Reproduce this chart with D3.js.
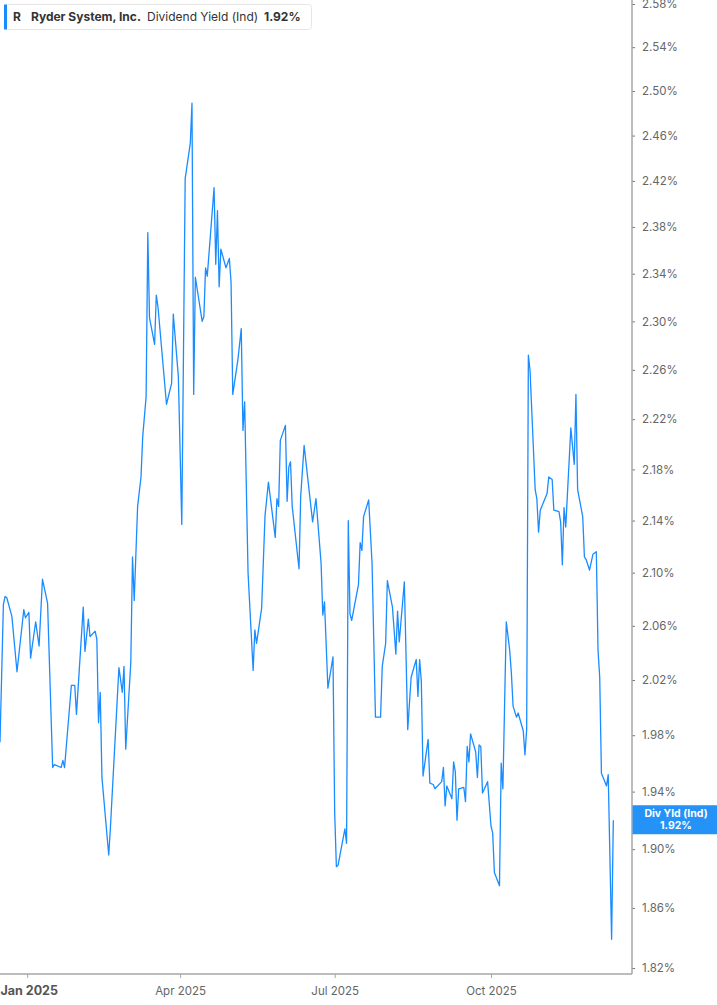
<!DOCTYPE html>
<html>
<head>
<meta charset="utf-8">
<script src="https://d3js.org/d3.v7.min.js"></script>
<style>
  body { margin: 0; background: #fff; }
  svg { display: block; font-family: Inter, "Noto Sans", sans-serif; }
</style>
</head>
<body>
<svg width="717" height="1005"></svg>
<script>
// Ryder System, Inc. - dividend yield (ind), in percent
var dates = ["2024-12-16","2024-12-18","2024-12-19","2024-12-20","2024-12-23","2024-12-26","2024-12-30","2024-12-31",
  "2025-01-02","2025-01-03","2025-01-06","2025-01-08","2025-01-10","2025-01-13","2025-01-16","2025-01-17","2025-01-21","2025-01-22","2025-01-23","2025-01-27","2025-01-29","2025-01-30",
  "2025-02-03","2025-02-04","2025-02-06","2025-02-07","2025-02-10","2025-02-11","2025-02-12","2025-02-13","2025-02-14","2025-02-18","2025-02-19","2025-02-21","2025-02-24","2025-02-26","2025-02-27","2025-02-28",
  "2025-03-03","2025-03-04","2025-03-05","2025-03-07","2025-03-09","2025-03-10","2025-03-12","2025-03-13","2025-03-14","2025-03-17","2025-03-18","2025-03-19","2025-03-24","2025-03-27","2025-03-28","2025-03-31",
  "2025-04-02","2025-04-04","2025-04-07","2025-04-08","2025-04-09","2025-04-10","2025-04-14","2025-04-15","2025-04-16","2025-04-17","2025-04-21","2025-04-22","2025-04-23","2025-04-24","2025-04-25","2025-04-28","2025-04-30",
  "2025-05-01","2025-05-02","2025-05-05","2025-05-07","2025-05-08","2025-05-09","2025-05-11","2025-05-14","2025-05-15","2025-05-16","2025-05-19","2025-05-21","2025-05-23","2025-05-27","2025-05-28","2025-05-29","2025-05-30",
  "2025-06-02","2025-06-03","2025-06-04","2025-06-05","2025-06-06","2025-06-10","2025-06-11","2025-06-13","2025-06-18","2025-06-20","2025-06-23","2025-06-24","2025-06-25","2025-06-27","2025-06-30",
  "2025-07-01","2025-07-02","2025-07-03","2025-07-07","2025-07-08","2025-07-09","2025-07-10","2025-07-11","2025-07-15","2025-07-16","2025-07-17","2025-07-18","2025-07-21","2025-07-23","2025-07-25","2025-07-28","2025-07-29","2025-07-31",
  "2025-08-01","2025-08-04","2025-08-06","2025-08-07","2025-08-08","2025-08-11","2025-08-13","2025-08-15","2025-08-18","2025-08-19","2025-08-20","2025-08-21","2025-08-22","2025-08-25","2025-08-26","2025-08-28","2025-08-29",
  "2025-09-02","2025-09-03","2025-09-04","2025-09-05","2025-09-08","2025-09-09","2025-09-10","2025-09-11","2025-09-12","2025-09-15","2025-09-16","2025-09-17","2025-09-18","2025-09-19","2025-09-22","2025-09-23","2025-09-24","2025-09-25","2025-09-26","2025-09-29",
  "2025-10-01","2025-10-02","2025-10-03","2025-10-06","2025-10-07","2025-10-08","2025-10-10","2025-10-12","2025-10-13","2025-10-14","2025-10-16","2025-10-17","2025-10-20","2025-10-21","2025-10-22","2025-10-23","2025-10-24","2025-10-27","2025-10-28","2025-10-29","2025-10-30",
  "2025-11-03","2025-11-04","2025-11-06","2025-11-07","2025-11-10","2025-11-11","2025-11-12","2025-11-13","2025-11-14","2025-11-17","2025-11-19","2025-11-20","2025-11-21","2025-11-24","2025-11-25","2025-11-26","2025-11-28","2025-11-30",
  "2025-12-02","2025-12-03","2025-12-04","2025-12-05","2025-12-08","2025-12-09","2025-12-11","2025-12-12"];

var yields = [1.975, 2.076, 2.082, 2.081, 2.067, 2.026, 2.072, 2.066,
  2.070, 2.036, 2.063, 2.045, 2.095, 2.077, 1.957, 1.959, 1.957, 1.962, 1.957, 2.016, 2.016, 1.995,
  2.074, 2.041, 2.065, 2.052, 2.056, 2.050, 1.989, 2.011, 1.950, 1.896, 1.915, 1.960, 2.029, 2.011, 2.030, 1.970,
  2.033, 2.112, 2.079, 2.151, 2.174, 2.206, 2.238, 2.375, 2.303, 2.281, 2.322, 2.312, 2.232, 2.249, 2.306, 2.254,
  2.137, 2.422, 2.453, 2.489, 2.240, 2.337, 2.300, 2.304, 2.345, 2.338, 2.414, 2.348, 2.394, 2.329, 2.361, 2.345, 2.353,
  2.333, 2.240, 2.268, 2.294, 2.211, 2.234, 2.100, 2.027, 2.057, 2.047, 2.073, 2.144, 2.170, 2.127, 2.157, 2.151, 2.203,
  2.215, 2.155, 2.182, 2.186, 2.151, 2.103, 2.159, 2.199, 2.139, 2.157, 2.107, 2.068, 2.078, 2.014, 2.037,
  1.925, 1.888, 1.889, 1.914, 1.904, 2.140, 2.069, 2.064, 2.091, 2.123, 2.117, 2.143, 2.156, 2.107, 1.993, 1.993, 2.030, 2.047,
  2.094, 2.074, 2.039, 2.071, 2.048, 2.093, 1.984, 2.022, 2.035, 2.008, 2.035, 2.019, 1.951, 1.977, 1.946, 1.945, 1.942,
  1.947, 1.957, 1.930, 1.944, 1.935, 1.961, 1.954, 1.920, 1.942, 1.943, 1.933, 1.972, 1.961, 1.981, 1.968, 1.950, 1.973, 1.972, 1.939, 1.947,
  1.916, 1.911, 1.884, 1.875, 1.960, 1.942, 2.063, 2.042, 2.025, 2.001, 1.993, 1.996, 1.983, 1.966, 1.984, 2.272, 2.259, 2.164, 2.157, 2.131, 2.148,
  2.161, 2.174, 2.172, 2.148, 2.147, 2.139, 2.106, 2.150, 2.135, 2.213, 2.184, 2.240, 2.164, 2.143, 2.112, 2.110, 2.102, 2.114,
  2.116, 2.042, 2.022, 1.953, 1.944, 1.952, 1.839, 1.920];

var yTicks = [1.82, 1.86, 1.90, 1.94, 1.98, 2.02, 2.06, 2.10, 2.14, 2.18, 2.22, 2.26, 2.30, 2.34, 2.38, 2.42, 2.46, 2.50, 2.54, 2.58];
var xTicks = ["2025-01-01", "2025-04-01", "2025-07-01", "2025-10-01"];
var xTickLabels = ["Jan 2025", "Apr 2025", "Jul 2025", "Oct 2025"];
var xDomain = ["2024-12-16", "2025-12-23"];

var parseDate = d3.timeParse("%Y-%m-%d");

var data = dates.map(function(d, i) {
  return {date: parseDate(d), value: yields[i]};
});

var svg = d3.select("svg"),
    plotRight = 632,
    plotBottom = 974,
    blue = "#1a8cff",
    axisColor = "#a6a6a6";

var x = d3.scaleTime()
    .domain(xDomain.map(parseDate))
    .range([0, plotRight]);

// log scale: tick spacing grows toward the bottom
var y = d3.scaleLog()
    .domain([1.82, 2.58])
    .range([968, 4]);

// line
var line = d3.line()
    .x(function(d) { return x(d.date); })
    .y(function(d) { return y(d.value); });

svg.append("path")
    .datum(data)
    .attr("fill", "none")
    .attr("stroke", blue)
    .attr("stroke-width", 1.3)
    .attr("stroke-linejoin", "round")
    .attr("d", line);

// right axis
var yAxis = svg.append("g")
    .attr("transform", "translate(" + plotRight + ",0)")
    .call(d3.axisRight(y)
      .tickValues(yTicks)
      .tickSize(3)
      .tickPadding(7)
      .tickFormat(function(d) { return d.toFixed(2) + "%"; }));

yAxis.select(".domain").remove();
yAxis.selectAll(".tick line").attr("stroke", "#777");
yAxis.selectAll(".tick text")
    .attr("fill", "#666")
    .attr("font-size", "11.5px")
    .attr("font-family", "Inter, sans-serif");

// bottom axis
var xAxis = svg.append("g")
    .attr("transform", "translate(0," + plotBottom + ")")
    .call(d3.axisBottom(x)
      .tickValues(xTicks.map(parseDate))
      .tickSize(4)
      .tickFormat(function(d, i) { return xTickLabels[i]; }));

xAxis.select(".domain").remove();
xAxis.selectAll(".tick line").attr("stroke", axisColor);
xAxis.selectAll(".tick text")
    .attr("fill", "#666")
    .attr("font-size", "11.5px")
    .attr("font-family", "Inter, sans-serif")
    .attr("dy", null)
    .attr("y", 21);

// first label is bold and sits flush left
xAxis.select(".tick text")
    .attr("text-anchor", "start")
    .attr("x", -x(parseDate(xTicks[0])))
    .attr("font-weight", "bold")
    .attr("font-size", "12.5px")
    .attr("fill", "#555");

// axis lines
svg.append("line")
    .attr("x1", plotRight).attr("x2", plotRight)
    .attr("y1", 0).attr("y2", plotBottom)
    .attr("stroke", axisColor)
    .attr("stroke-width", 1.5);

svg.append("line")
    .attr("x1", 0).attr("x2", plotRight)
    .attr("y1", plotBottom).attr("y2", plotBottom)
    .attr("stroke", axisColor)
    .attr("stroke-width", 1.5);

// last value tag on the axis
var last = data[data.length - 1];
var tag = svg.append("g")
    .attr("transform", "translate(" + plotRight + "," + y(last.value) + ")");

tag.append("rect")
    .attr("x", 0.5)
    .attr("y", -15)
    .attr("width", 717 - plotRight)
    .attr("height", 29)
    .attr("fill", "#2592f7");

tag.append("text")
    .attr("x", 44)
    .attr("y", -3)
    .attr("text-anchor", "middle")
    .attr("fill", "#fff")
    .attr("font-size", "10.5px")
    .attr("font-weight", "bold")
    .text("Div Yld (Ind)");

tag.append("text")
    .attr("x", 44)
    .attr("y", 8.5)
    .attr("text-anchor", "middle")
    .attr("fill", "#fff")
    .attr("font-size", "10.5px")
    .attr("font-weight", "bold")
    .text(last.value.toFixed(2) + "%");

// legend box
var legend = svg.append("g");

legend.append("rect")
    .attr("x", 4.5)
    .attr("y", 4.5)
    .attr("width", 307)
    .attr("height", 25)
    .attr("rx", 3)
    .attr("fill", "#fff")
    .attr("stroke", "#e6e6e6");

legend.append("rect")
    .attr("x", 4)
    .attr("y", 4.5)
    .attr("width", 3)
    .attr("height", 25)
    .attr("fill", blue);

legend.append("text")
    .attr("x", 13)
    .attr("y", 21)
    .attr("fill", "#333")
    .attr("font-size", "12px")
    .attr("font-weight", "bold")
    .text("R");

legend.append("text")
    .attr("x", 31)
    .attr("y", 21)
    .attr("fill", "#333")
    .attr("font-size", "12px")
    .attr("font-weight", "bold")
    .text("Ryder System, Inc.");

legend.append("text")
    .attr("x", 147)
    .attr("y", 21)
    .attr("fill", "#333")
    .attr("font-size", "12px")
    .text("Dividend Yield (Ind)");

legend.append("text")
    .attr("x", 264)
    .attr("y", 21)
    .attr("fill", "#333")
    .attr("font-size", "12px")
    .attr("font-weight", "bold")
    .text(last.value.toFixed(2) + "%");
</script>
</body>
</html>
